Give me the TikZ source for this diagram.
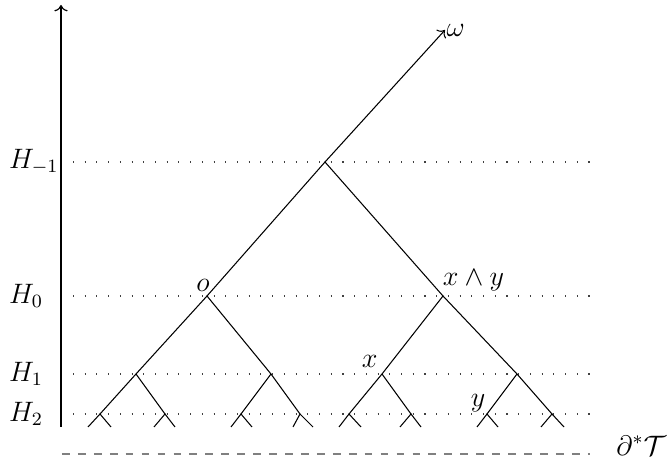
\documentclass[tikz,border=0pt]{standalone}
\usepackage{amsmath,amssymb}
\usepackage{tikz}
\usetikzlibrary{arrows.meta,positioning,calc}

\begin{document}
\begin{tikzpicture}[
  branch/.style={line width=.45pt},
  ray/.style={branch,->},
  axisline/.style={line width=.5pt,->},
  level/.style={dash pattern=on .45pt off 4.55pt,line width=.45pt,black!75},
  boundary/.style={dashed,dash pattern=on 3.3pt off 3.5pt,gray,line width=.6pt},
  levellabel/.style={anchor=west,inner sep=0pt,font=\large},
  vertexlabel/.style={inner sep=0pt,font=\large}
]
\useasboundingbox (0,0) rectangle (10.035,7.065);

% Height axis and the horocycle levels.
\coordinate (axisbot) at (0.915,0.66);
\coordinate (axistop) at (0.915,6.99);
\draw[axisline] (axisbot) -- (axistop);
\foreach \lev/\hgt/\txt in {hm1/4.635/{H_{-1}},h0/2.625/{H_0},
                            h1/1.455/{H_1},h2/0.855/{H_2}}{
  \node[levellabel] (lab\lev) at (0.13,\hgt) {$\txt$};
  \coordinate (\lev w) at (1.095,\hgt);
  \coordinate (\lev e) at (8.85,\hgt);
  \draw[level] (\lev w) -- (\lev e);
}

% Upper part of the tree, the geodesic ray goes to omega.
\coordinate (omega) at (6.675,6.615);
\coordinate (root) at (4.875,4.635);
\coordinate (o) at (3.105,2.625);
\coordinate (xy) at (6.645,2.625);
\draw[ray] (root) -- (omega);
\draw[branch] (o) -- (root) -- (xy);
\node[vertexlabel,anchor=west] (omegalab) at ([xshift=.5pt]omega) {$\omega$};
\node[vertexlabel,anchor=south] (olab) at ($(o)+(-0.06,0.06)$) {$o$};
\node[vertexlabel,anchor=south west] (xylab) at ($(xy)+(-0.01,0.075)$) {$x\wedge y$};

% Vertices on H_1.
\coordinate (a1) at (2.04,1.455);
\coordinate (b1) at (4.065,1.455);
\coordinate (x) at (5.73,1.455);
\coordinate (d1) at (7.755,1.455);
\draw[branch] (a1) -- (o) -- (b1);
\draw[branch] (x) -- (xy) -- (d1);
\node[vertexlabel,anchor=south east] (xlab) at ($(x)+(-0.06,0.09)$) {$x$};

% Vertices on H_2 with short stubs towards the boundary.
\foreach \i/\up/\xa/\xl/\xr in {1/a1/1.5/1.32/1.665,2/a1/2.475/2.31/2.625,
    3/b1/3.615/3.465/3.78,4/b1/4.5/4.395/4.695,
    5/x/5.235/5.085/5.415,6/x/6.165/6.0/6.315,
    7/d1/7.305/7.155/7.47,8/d1/8.28/8.115/8.46}{
  \coordinate (v\i) at (\xa,0.855);
  \coordinate (v\i l) at (\xl,0.66);
  \coordinate (v\i r) at (\xr,0.66);
  \draw[branch] (\up) -- (v\i);
  \draw[branch] (v\i l) -- (v\i) -- (v\i r);
}
\node[vertexlabel,anchor=south east] (ylab) at ($(v7)+(-0.02,0.03)$) {$y$};

% Boundary at infinity.
\coordinate (bdw) at (0.93,0.255);
\coordinate (bde) at (8.85,0.255);
\draw[boundary] (bdw) -- (bde);
\node[vertexlabel,anchor=base west] (bdlab) at (9.24,0.24) {$\partial^*\mathcal{T}$};
\end{tikzpicture}
\end{document}
